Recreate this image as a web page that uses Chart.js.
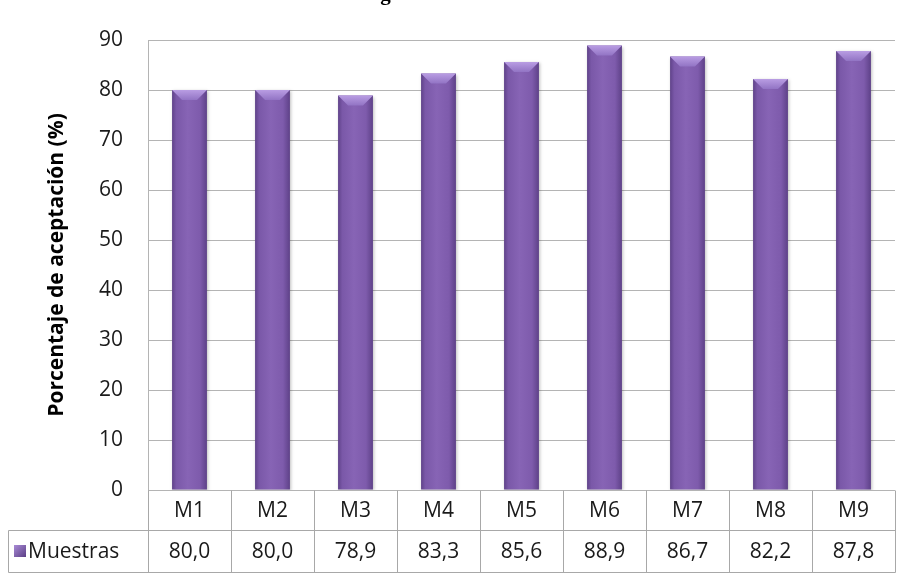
<!DOCTYPE html>
<html>
<head>
<meta charset="utf-8">
<script src="https://cdn.jsdelivr.net/npm/chart.js@4.4.1/dist/chart.umd.min.js"></script>
<style>
  html, body { margin: 0; padding: 0; background: #fff; }
  #wrap { position: relative; width: 909px; height: 576px; }
  #cut-title {
    position: absolute; left: 0; top: 0; width: 909px; height: 5px;
    overflow: hidden;
  }
  #cut-title span {
    position: absolute; left: 365px; top: -19px;
    font: bold 21px "Liberation Serif", serif; color: #000; white-space: nowrap;
  }
</style>
</head>
<body>
<div id="wrap">
  <div id="cut-title"><span>Agrado de las muestras</span></div>
  <canvas id="chart" width="909" height="576"></canvas>
</div>
<script>
const categories = ['M1', 'M2', 'M3', 'M4', 'M5', 'M6', 'M7', 'M8', 'M9'];
const seriesName = 'Muestras';
const acceptance = [80.0, 80.0, 78.9, 83.3, 85.6, 88.9, 86.7, 82.2, 87.8];
const yTicks = [0, 10, 20, 30, 40, 50, 60, 70, 80, 90];
const yTitle = 'Porcentaje de aceptación (%)';

const FONT = '"Open Sans", Lato, sans-serif';
const GRID = '#b4b4b4';
const TABLE_LINE = '#a8a8a8';

function barGradient(ctx, x0, x1) {
    const g = ctx.createLinearGradient(x0, 0, x1, 0);
    g.addColorStop(0, '#5f4289');
    g.addColorStop(0.12, '#7a58a8');
    g.addColorStop(0.45, '#8764b5');
    g.addColorStop(0.8, '#7e5bac');
    g.addColorStop(1, '#5e4188');
    return g;
}

// cylinder-ish shading for each bar
const barStyle = {
    id: 'barStyle',
    beforeDatasetsDraw(chart) {
        const ctx = chart.ctx;
        chart.getDatasetMeta(0).data.forEach(el => {
            el.options.backgroundColor = barGradient(ctx, el.x - el.width / 2, el.x + el.width / 2);
        });
        ctx.save();
        ctx.shadowColor = 'rgba(0,0,0,0.25)';
        ctx.shadowBlur = 3;
        ctx.shadowOffsetX = 1;
        ctx.shadowOffsetY = 1;
    },
    afterDatasetsDraw(chart) {
        const ctx = chart.ctx;
        ctx.restore();
        ctx.save();
        chart.getDatasetMeta(0).data.forEach(el => {
            const l = el.x - el.width / 2, r = el.x + el.width / 2, t = el.y;
            const b = 10;
            // top bevel
            const g = ctx.createLinearGradient(0, t, 0, t + b);
            g.addColorStop(0, '#b99de3');
            g.addColorStop(1, '#9274c4');
            ctx.fillStyle = g;
            ctx.beginPath();
            ctx.moveTo(l, t);
            ctx.lineTo(r, t);
            ctx.lineTo(r - b, t + b);
            ctx.lineTo(l + b, t + b);
            ctx.closePath();
            ctx.fill();
        });
        ctx.restore();
    }
};

// data table under the plot
const dataTable = {
    id: 'dataTable',
    afterDraw(chart) {
        const {ctx, chartArea: a, scales: {x}} = chart;
        const n = categories.length;
        const colW = (a.right - a.left) / n;
        const r1 = a.bottom, r2 = a.bottom + 40, r3 = a.bottom + 82;
        const tableLeft = 8;
        ctx.save();
        ctx.strokeStyle = TABLE_LINE;
        ctx.lineWidth = 1;
        const line = (x0, y0, x1, y1) => {
            ctx.beginPath();
            ctx.moveTo(Math.round(x0) + 0.5, Math.round(y0) + 0.5);
            ctx.lineTo(Math.round(x1) + 0.5, Math.round(y1) + 0.5);
            ctx.stroke();
        };
        line(tableLeft, r2, a.right, r2);
        line(tableLeft, r3, a.right, r3);
        line(tableLeft, r2, tableLeft, r3);
        line(a.left, r1, a.left, r3);
        for (let i = 0; i < n; i++) {
            const xr = x.getPixelForValue(i) + colW / 2;
            line(xr, r1, xr, r3);
        }
        ctx.fillStyle = '#1a1a1a';
        ctx.font = '21px ' + FONT;
        ctx.textAlign = 'center';
        ctx.textBaseline = 'middle';
        categories.forEach((c, i) => {
            const cx = x.getPixelForValue(i);
            ctx.fillText(c, cx, (r1 + r2) / 2 + 1);
            ctx.fillText(acceptance[i].toFixed(1).replace('.', ','), cx, (r2 + r3) / 2 + 1);
        });
        // legend key
        const ky = (r2 + r3) / 2;
        const kg = ctx.createLinearGradient(14, ky - 6, 26, ky + 6);
        kg.addColorStop(0, '#a98bd6');
        kg.addColorStop(1, '#5b3e85');
        ctx.fillStyle = kg;
        ctx.fillRect(14, ky - 6, 12, 12);
        ctx.fillStyle = '#1a1a1a';
        ctx.textAlign = 'left';
        ctx.fillText(seriesName, 28, ky + 1);
        ctx.restore();
    }
};

new Chart(document.getElementById('chart'), {
    type: 'bar',
    data: {
        labels: categories,
        datasets: [{
            label: seriesName,
            data: acceptance,
            // scriptable so every bar gets its own options object
            backgroundColor: () => '#7b58a8',
            barPercentage: 0.42,
            categoryPercentage: 1
        }]
    },
    options: {
        responsive: false,
        animation: false,
        layout: { padding: { left: 0, top: 40, right: 14, bottom: 86 } },
        plugins: {
            legend: { display: false },
            tooltip: { enabled: false }
        },
        scales: {
            x: { display: false },
            y: {
                min: 0,
                max: 90,
                afterFit(scale) { scale.width = 148; },
                afterBuildTicks(scale) { scale.ticks = yTicks.map(v => ({ value: v })); },
                grid: { color: GRID, drawTicks: false },
                border: { color: GRID },
                ticks: {
                    padding: 25,
                    color: '#1a1a1a',
                    font: { family: FONT, size: 21 }
                },
                title: {
                    display: true,
                    text: yTitle,
                    color: '#000',
                    font: { family: FONT, size: 21, weight: 'bold' },
                    padding: { top: 44 }
                }
            }
        }
    },
    plugins: [barStyle, dataTable]
});
</script>
</body>
</html>
